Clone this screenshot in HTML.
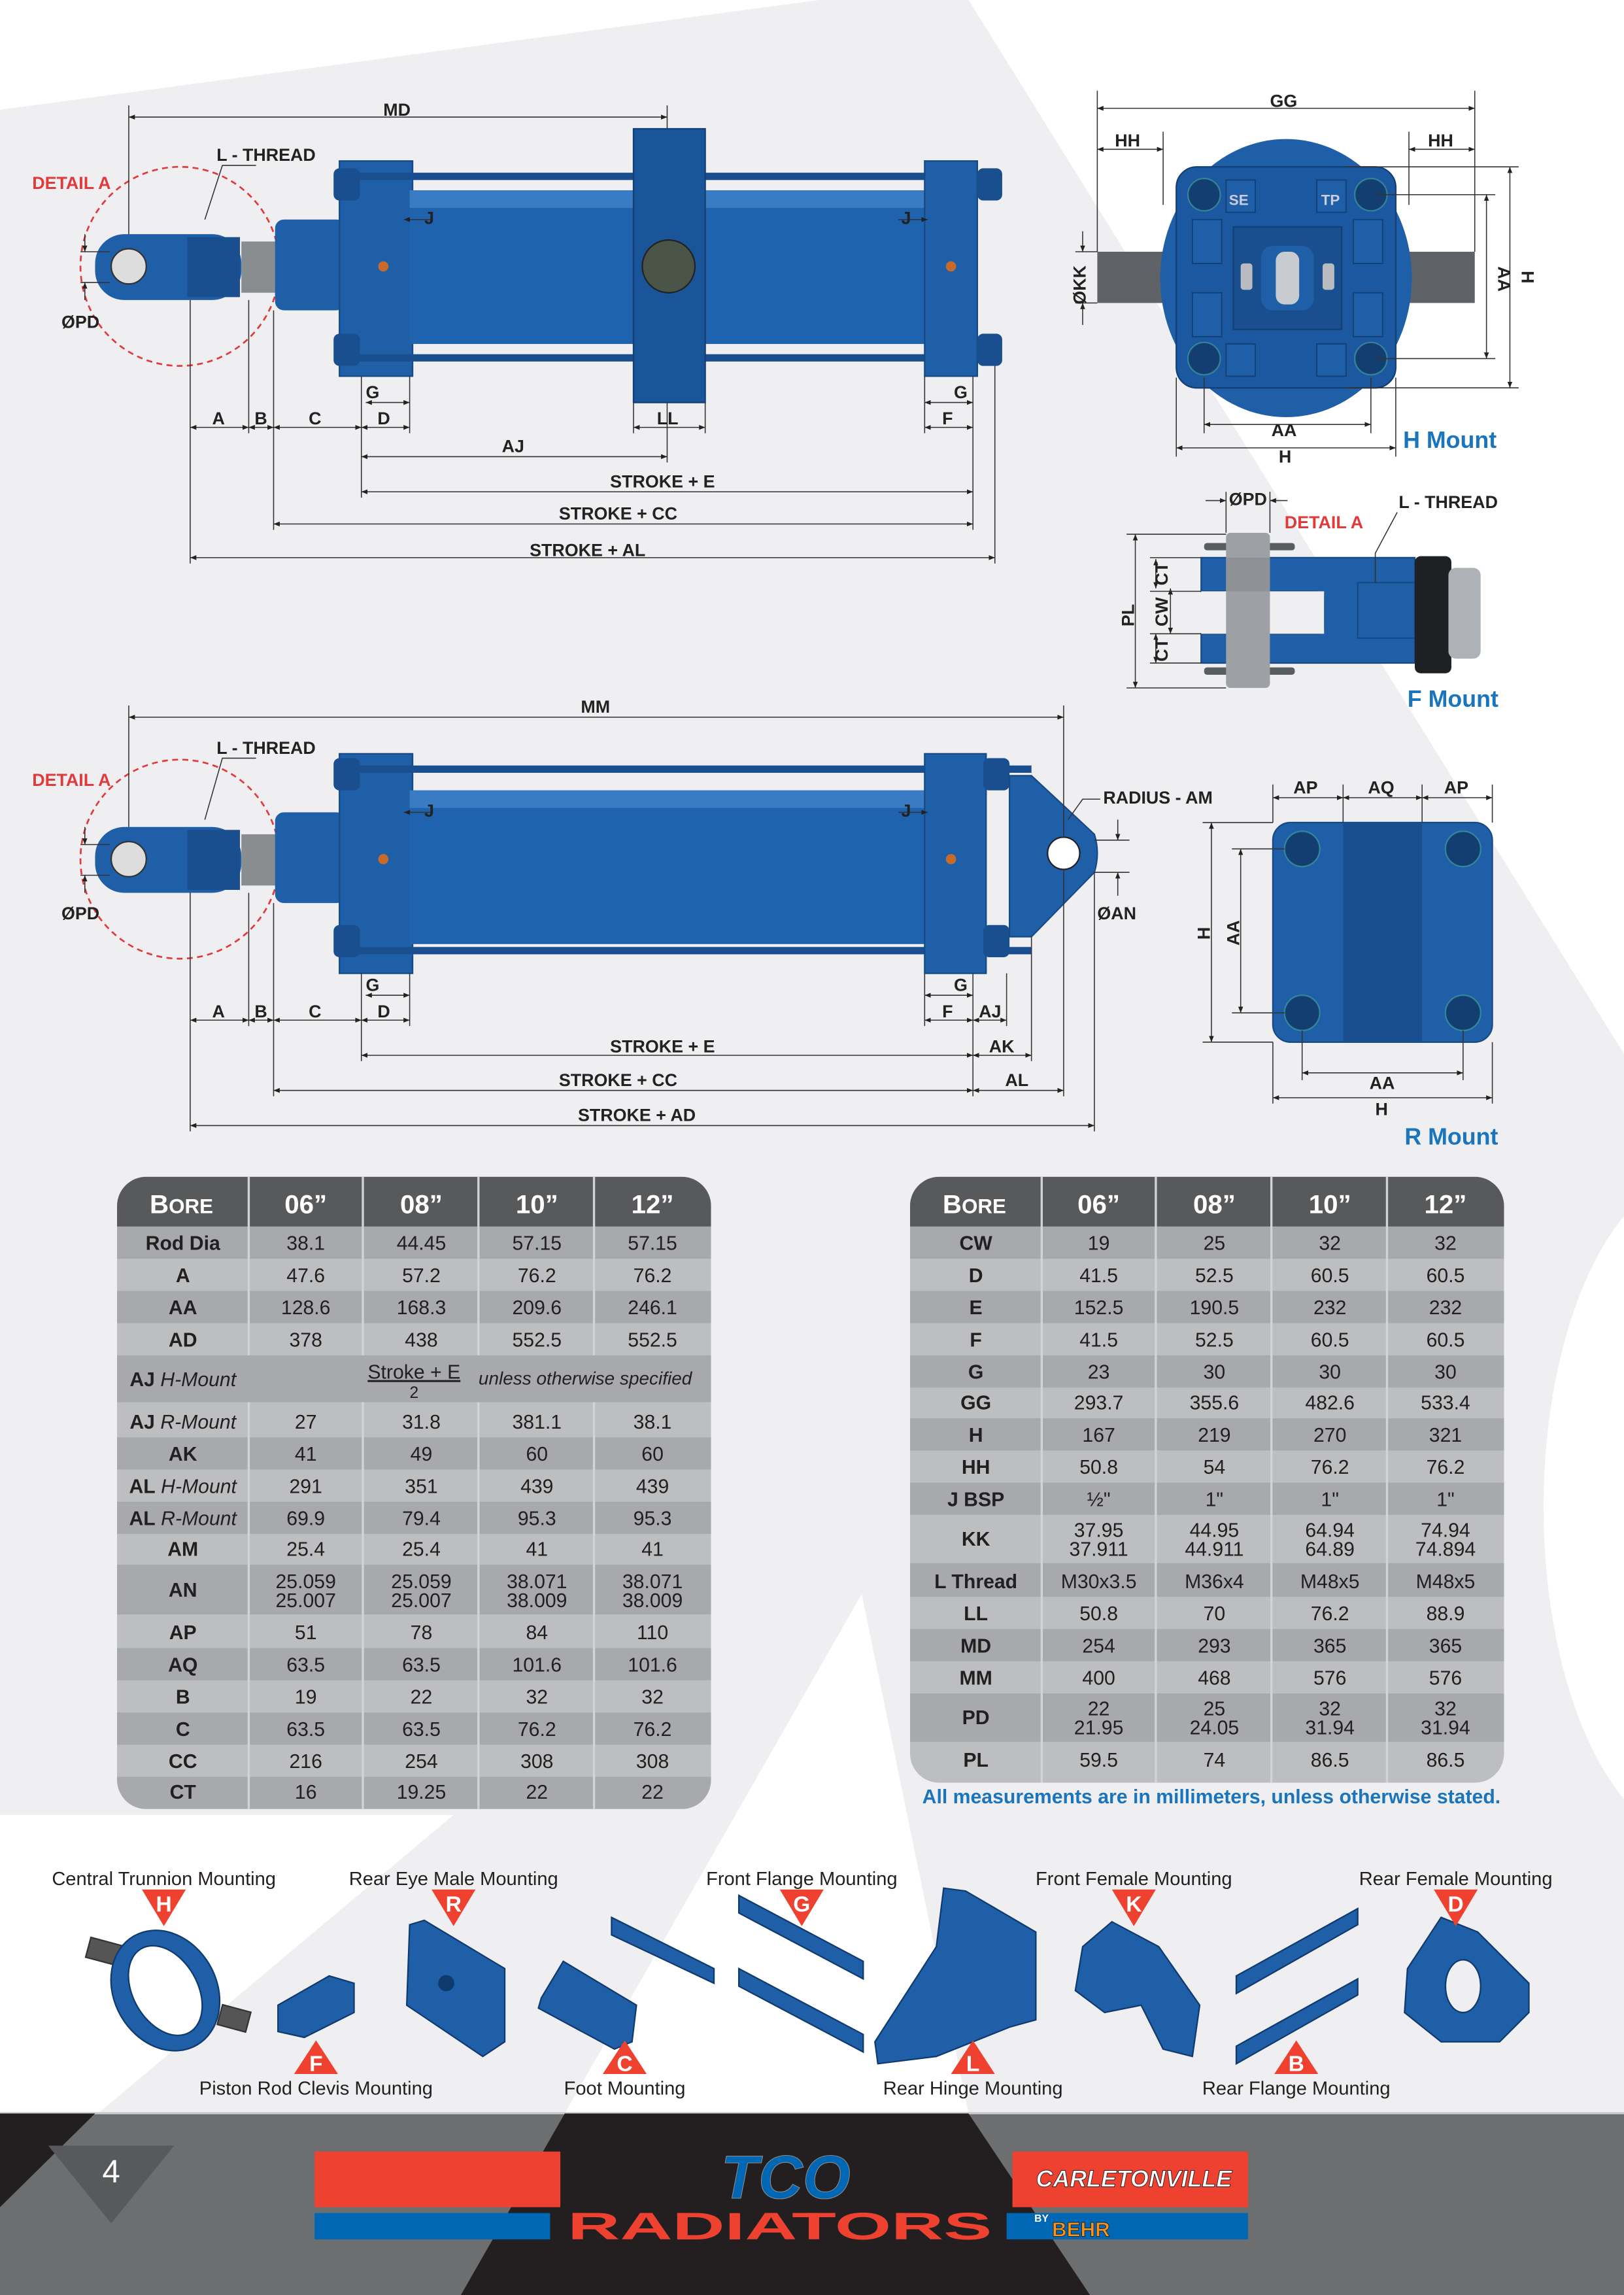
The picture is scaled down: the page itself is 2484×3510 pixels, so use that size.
<!DOCTYPE html>
<html><head><meta charset="utf-8"><style>
html,body{margin:0;padding:0;background:#fff}
svg{display:block}
.d{font-family:"Liberation Sans",sans-serif;font-weight:bold;font-size:12px;fill:#222}
.t{font-family:"Liberation Sans Narrow","Liberation Sans",sans-serif;font-size:13.5px;fill:#231f20;text-anchor:middle}
.tb{font-weight:bold}
.h{font-family:"Liberation Sans Narrow","Liberation Sans",sans-serif;font-size:18px;font-weight:bold;fill:#fff;text-anchor:middle}
.ml{font-family:"Liberation Sans Narrow","Liberation Sans",sans-serif;font-size:13px;fill:#231f20;text-anchor:middle}
.tri{font-family:"Liberation Sans",sans-serif;font-size:15px;font-weight:bold;fill:#fff;text-anchor:middle}
</style></head><body>
<svg width="2484" height="3510" viewBox="0 0 1110 1568" preserveAspectRatio="none" xmlns="http://www.w3.org/2000/svg">
<defs>
<marker id="a" viewBox="0 0 10 10" refX="10" refY="5" markerWidth="6" markerHeight="6" orient="auto-start-reverse"><path d="M0,1 L10,5 L0,9 z" fill="#222"/></marker>
<clipPath id="cl"><rect x="80" y="804" width="406" height="432" rx="20"/></clipPath>
<clipPath id="cr"><rect x="622" y="804" width="406" height="414" rx="20"/></clipPath>
</defs>
<!-- background -->
<rect width="1110" height="1568" fill="#efeff1"/>
<polygon points="0,0 560,0 0,75" fill="#fff"/>
<polygon points="662,0 1110,0 1110,720" fill="#fff"/>
<ellipse cx="1165" cy="1030" rx="110" ry="230" fill="#fff"/>
<polygon points="589,1089 662,1444 386,1444" fill="#fff"/>
<polygon points="0,1240 310,1240 67,1444 0,1444" fill="#fff"/>

<!-- ===== Cylinder 1 (H mount) ===== -->
<g>
<circle cx="123" cy="182" r="68" fill="none" stroke="#e03a3a" stroke-width="1.2" stroke-dasharray="4,3"/>
<rect x="65" y="160" width="100" height="45" rx="20" fill="#1f5fa8"/>
<rect x="128" y="162" width="36" height="41" fill="#1a4f8f"/>
<circle cx="88" cy="182" r="12" fill="#ddd" stroke="#333"/>
<rect x="165" y="165" width="25" height="35" fill="#8a8d90"/>
<rect x="188" y="150" width="48" height="62" rx="6" fill="#1f5fa8"/>
<rect x="232" y="110" width="50" height="147" fill="#1f5fa8" stroke="#174a85"/>
<rect x="228" y="115" width="18" height="22" rx="4" fill="#1a4f8f"/>
<rect x="228" y="228" width="18" height="22" rx="4" fill="#1a4f8f"/>
<rect x="245" y="118" width="435" height="5" fill="#1a4f8f"/>
<rect x="245" y="242" width="435" height="5" fill="#1a4f8f"/>
<rect x="280" y="130" width="355" height="105" fill="#1f62ad"/>
<rect x="280" y="130" width="355" height="12" fill="#3a7cc4"/>
<rect x="433" y="88" width="49" height="187" fill="#1a559a" stroke="#123f74"/>
<circle cx="457" cy="182" r="18" fill="#4a5548" stroke="#222"/>
<rect x="632" y="110" width="36" height="147" fill="#1f5fa8" stroke="#174a85"/>
<rect x="668" y="115" width="17" height="22" rx="4" fill="#1a4f8f"/>
<rect x="668" y="228" width="17" height="22" rx="4" fill="#1a4f8f"/>
<circle cx="262" cy="182" r="3.5" fill="#c86a2a"/>
<circle cx="650" cy="182" r="3.5" fill="#c86a2a"/>
</g>
<g stroke="#333" stroke-width="0.7" fill="none">
<line x1="88" y1="72" x2="88" y2="160"/><line x1="456" y1="72" x2="456" y2="88"/>
<line x1="130" y1="205" x2="130" y2="385"/><line x1="170" y1="205" x2="170" y2="296"/>
<line x1="187" y1="212" x2="187" y2="362"/><line x1="247" y1="257" x2="247" y2="340"/>
<line x1="280" y1="257" x2="280" y2="296"/><line x1="433" y1="275" x2="433" y2="296"/>
<line x1="482" y1="275" x2="482" y2="296"/><line x1="456" y1="275" x2="456" y2="316"/>
<line x1="632" y1="257" x2="632" y2="296"/><line x1="665" y1="257" x2="665" y2="362"/>
<line x1="680" y1="250" x2="680" y2="385"/>
<line x1="88" y1="80" x2="456" y2="80" marker-start="url(#a)" marker-end="url(#a)"/>
<line x1="130" y1="292" x2="170" y2="292" marker-start="url(#a)" marker-end="url(#a)"/>
<line x1="170" y1="292" x2="187" y2="292" marker-start="url(#a)" marker-end="url(#a)"/>
<line x1="187" y1="292" x2="247" y2="292" marker-start="url(#a)" marker-end="url(#a)"/>
<line x1="247" y1="292" x2="280" y2="292" marker-start="url(#a)" marker-end="url(#a)"/>
<line x1="250" y1="275" x2="280" y2="275" marker-start="url(#a)" marker-end="url(#a)"/>
<line x1="433" y1="292" x2="482" y2="292" marker-start="url(#a)" marker-end="url(#a)"/>
<line x1="632" y1="292" x2="665" y2="292" marker-start="url(#a)" marker-end="url(#a)"/>
<line x1="632" y1="275" x2="665" y2="275" marker-start="url(#a)" marker-end="url(#a)"/>
<line x1="247" y1="312" x2="456" y2="312" marker-start="url(#a)" marker-end="url(#a)"/>
<line x1="247" y1="336" x2="665" y2="336" marker-start="url(#a)" marker-end="url(#a)"/>
<line x1="187" y1="358" x2="665" y2="358" marker-start="url(#a)" marker-end="url(#a)"/>
<line x1="130" y1="381" x2="680" y2="381" marker-start="url(#a)" marker-end="url(#a)"/>
<polyline points="175,113 152,113 140,150"/>
<line x1="55" y1="172" x2="75" y2="172"/><line x1="55" y1="193" x2="75" y2="193"/>
<line x1="58" y1="160" x2="58" y2="172" marker-end="url(#a)"/><line x1="58" y1="205" x2="58" y2="193" marker-end="url(#a)"/>
<line x1="296" y1="150" x2="276" y2="150" marker-end="url(#a)"/>
<line x1="614" y1="150" x2="634" y2="150" marker-end="url(#a)"/>
</g>
<g class="d">
<text x="262" y="79">MD</text><text x="148" y="110">L - THREAD</text>
<text x="22" y="129" style="fill:#e03a3a">DETAIL A</text>
<text x="42" y="224">ØPD</text>
<text x="290" y="153">J</text><text x="616" y="153">J</text>
<text x="145" y="290">A</text><text x="174" y="290">B</text><text x="211" y="290">C</text><text x="258" y="290">D</text>
<text x="250" y="272">G</text><text x="652" y="272">G</text><text x="644" y="290">F</text><text x="449" y="290">LL</text>
<text x="343" y="309">AJ</text>
<text x="417" y="333">STROKE + E</text><text x="382" y="355">STROKE + CC</text><text x="362" y="380">STROKE + AL</text>
</g>

<!-- H mount end view -->
<g>
<rect x="750" y="172" width="60" height="35" fill="#5f6266"/>
<rect x="950" y="172" width="58" height="35" fill="#5f6266"/>
<ellipse cx="879" cy="190" rx="86" ry="95" fill="#1f5fa8"/>
<rect x="804" y="114" width="150" height="151" rx="14" fill="#1c58a0" stroke="#123f74"/>
<g fill="#1f5fa8" stroke="#123f74" stroke-width="0.8">
<rect x="815" y="150" width="20" height="30"/><rect x="925" y="150" width="20" height="30"/>
<rect x="815" y="200" width="20" height="30"/><rect x="925" y="200" width="20" height="30"/>
<rect x="838" y="123" width="20" height="22"/><rect x="900" y="123" width="20" height="22"/>
<rect x="838" y="235" width="20" height="22"/><rect x="900" y="235" width="20" height="22"/>
</g>
<rect x="843" y="155" width="74" height="70" fill="#1a4f8f" stroke="#123f74"/>
<rect x="862" y="168" width="36" height="44" rx="8" fill="#1f5fa8"/>
<rect x="872" y="172" width="16" height="36" rx="6" fill="#c8ccd0"/>
<rect x="848" y="180" width="8" height="18" rx="2" fill="#b8bcc0"/><rect x="904" y="180" width="8" height="18" rx="2" fill="#b8bcc0"/>
<g fill="#133e72" stroke="#7fa" stroke-opacity="0.3"><circle cx="823" cy="133" r="11"/><circle cx="937" cy="133" r="11"/><circle cx="823" cy="245" r="11"/><circle cx="937" cy="245" r="11"/></g>
</g>
<g stroke="#333" stroke-width="0.7" fill="none">
<line x1="750" y1="62" x2="750" y2="172"/><line x1="1008" y1="62" x2="1008" y2="172"/>
<line x1="795" y1="90" x2="795" y2="140"/><line x1="963" y1="90" x2="963" y2="140"/>
<line x1="750" y1="74" x2="1008" y2="74" marker-start="url(#a)" marker-end="url(#a)"/>
<line x1="750" y1="102" x2="795" y2="102" marker-start="url(#a)" marker-end="url(#a)"/>
<line x1="963" y1="102" x2="1008" y2="102" marker-start="url(#a)" marker-end="url(#a)"/>
<line x1="823" y1="258" x2="823" y2="296"/><line x1="937" y1="258" x2="937" y2="296"/>
<line x1="804" y1="258" x2="804" y2="312"/><line x1="954" y1="258" x2="954" y2="312"/>
<line x1="823" y1="290" x2="937" y2="290" marker-start="url(#a)" marker-end="url(#a)"/>
<line x1="804" y1="306" x2="954" y2="306" marker-start="url(#a)" marker-end="url(#a)"/>
<line x1="940" y1="133" x2="1022" y2="133"/><line x1="940" y1="245" x2="1022" y2="245"/>
<line x1="920" y1="114" x2="1038" y2="114"/><line x1="920" y1="265" x2="1038" y2="265"/>
<line x1="1016" y1="133" x2="1016" y2="245" marker-start="url(#a)" marker-end="url(#a)"/>
<line x1="1032" y1="114" x2="1032" y2="265" marker-start="url(#a)" marker-end="url(#a)"/>
<line x1="735" y1="172" x2="750" y2="172"/><line x1="735" y1="207" x2="750" y2="207"/>
<line x1="740" y1="158" x2="740" y2="172" marker-end="url(#a)"/><line x1="740" y1="222" x2="740" y2="207" marker-end="url(#a)"/>
</g>
<g class="d">
<text x="868" y="73">GG</text><text x="762" y="100">HH</text><text x="976" y="100">HH</text>
<text x="869" y="298">AA</text><text x="874" y="316">H</text>
<text x="1024" y="182" transform="rotate(90 1024 182)">AA</text>
<text x="1040" y="185" transform="rotate(90 1040 185)">H</text>
<text x="742" y="208" transform="rotate(-90 742 208)">ØKK</text>
<text x="840" y="140" style="font-size:10px;fill:#ccd">SE</text><text x="903" y="140" style="font-size:10px;fill:#ccd">TP</text>
</g>
<text x="959" y="306" style="font-family:'Liberation Sans',sans-serif;font-weight:bold;font-size:16px;fill:#1b75bc">H Mount</text>

<!-- F mount -->
<g>
<rect x="823" y="371" width="62" height="5" rx="2" fill="#5a5d60"/>
<rect x="823" y="456" width="62" height="5" rx="2" fill="#5a5d60"/>
<path d="M821,381 L967,381 L967,453 L821,453 L821,433 L900,433 Q905,433 905,428 L905,409 Q905,404 900,404 L821,404 Z" fill="#1f5fa8" stroke="#174a85"/>
<rect x="821" y="404" width="84" height="29" fill="#efeff1"/>
<rect x="928" y="398" width="39" height="38" fill="none" stroke="#174a85"/>
<rect x="838" y="364" width="30" height="106" rx="3" fill="#9da1a5"/>
<rect x="838" y="381" width="30" height="23" fill="#8e9296"/>
<rect x="967" y="380" width="25" height="80" rx="4" fill="#1e2124"/>
<rect x="990" y="388" width="22" height="62" rx="5" fill="#aeb2b6"/>
</g>
<g stroke="#333" stroke-width="0.7" fill="none">
<line x1="770" y1="365" x2="838" y2="365"/><line x1="770" y1="470" x2="838" y2="470"/>
<line x1="776" y1="365" x2="776" y2="470" marker-start="url(#a)" marker-end="url(#a)"/>
<line x1="790" y1="382" x2="790" y2="402" marker-start="url(#a)" marker-end="url(#a)"/>
<line x1="800" y1="402" x2="800" y2="433" marker-start="url(#a)" marker-end="url(#a)"/>
<line x1="790" y1="433" x2="790" y2="453" marker-start="url(#a)" marker-end="url(#a)"/>
<line x1="786" y1="381" x2="821" y2="381"/><line x1="786" y1="404" x2="821" y2="404"/><line x1="786" y1="433" x2="821" y2="433"/><line x1="786" y1="453" x2="821" y2="453"/>
<line x1="824" y1="342" x2="838" y2="342" marker-end="url(#a)"/><line x1="880" y1="342" x2="868" y2="342" marker-end="url(#a)"/>
<line x1="838" y1="336" x2="838" y2="364"/><line x1="868" y1="336" x2="868" y2="364"/>
<polyline points="955,350 940,378 940,398"/>
</g>
<g class="d">
<text x="840" y="345">ØPD</text><text x="878" y="361" style="fill:#e03a3a">DETAIL A</text><text x="956" y="347">L - THREAD</text>
<text x="775" y="428" transform="rotate(-90 775 428)">PL</text>
<text x="798" y="452" transform="rotate(-90 798 452)">CT</text>
<text x="798" y="428" transform="rotate(-90 798 428)">CW</text>
<text x="798" y="400" transform="rotate(-90 798 400)">CT</text>
</g>
<text x="962" y="483" style="font-family:'Liberation Sans',sans-serif;font-weight:bold;font-size:16px;fill:#1b75bc">F Mount</text>

<!-- ===== Cylinder 2 (R mount) ===== -->
<g>
<circle cx="123" cy="587" r="68" fill="none" stroke="#e03a3a" stroke-width="1.2" stroke-dasharray="4,3"/>
<rect x="65" y="565" width="100" height="45" rx="20" fill="#1f5fa8"/>
<rect x="128" y="567" width="36" height="41" fill="#1a4f8f"/>
<circle cx="88" cy="587" r="12" fill="#ddd" stroke="#333"/>
<rect x="165" y="570" width="25" height="35" fill="#8a8d90"/>
<rect x="188" y="555" width="48" height="62" rx="6" fill="#1f5fa8"/>
<rect x="232" y="515" width="50" height="150" fill="#1f5fa8" stroke="#174a85"/>
<rect x="228" y="518" width="18" height="22" rx="4" fill="#1a4f8f"/>
<rect x="228" y="632" width="18" height="22" rx="4" fill="#1a4f8f"/>
<rect x="245" y="523" width="460" height="5" fill="#1a4f8f"/>
<rect x="245" y="647" width="460" height="5" fill="#1a4f8f"/>
<rect x="280" y="540" width="355" height="105" fill="#1f62ad"/>
<rect x="280" y="540" width="355" height="12" fill="#3a7cc4"/>
<rect x="632" y="515" width="42" height="150" fill="#1f5fa8" stroke="#174a85"/>
<rect x="672" y="518" width="18" height="22" rx="4" fill="#1a4f8f"/>
<rect x="672" y="632" width="18" height="22" rx="4" fill="#1a4f8f"/>
<path d="M690,530 L705,530 L748,570 Q752,583 748,596 L705,640 L690,640 Z" fill="#1f5fa8" stroke="#174a85"/>
<circle cx="727" cy="583" r="11" fill="#fff" stroke="#222"/>
<circle cx="262" cy="587" r="3.5" fill="#c86a2a"/>
<circle cx="650" cy="587" r="3.5" fill="#c86a2a"/>
</g>
<g stroke="#333" stroke-width="0.7" fill="none">
<line x1="88" y1="482" x2="88" y2="565"/><line x1="727" y1="482" x2="727" y2="572"/>
<line x1="88" y1="490" x2="727" y2="490" marker-start="url(#a)" marker-end="url(#a)"/>
<line x1="130" y1="610" x2="130" y2="773"/><line x1="170" y1="610" x2="170" y2="701"/>
<line x1="187" y1="617" x2="187" y2="749"/><line x1="247" y1="665" x2="247" y2="725"/>
<line x1="280" y1="665" x2="280" y2="701"/><line x1="632" y1="665" x2="632" y2="701"/>
<line x1="665" y1="665" x2="665" y2="749"/><line x1="688" y1="665" x2="688" y2="701"/>
<line x1="705" y1="640" x2="705" y2="725"/><line x1="727" y1="594" x2="727" y2="749"/>
<line x1="748" y1="596" x2="748" y2="773"/>
<line x1="130" y1="697" x2="170" y2="697" marker-start="url(#a)" marker-end="url(#a)"/>
<line x1="170" y1="697" x2="187" y2="697" marker-start="url(#a)" marker-end="url(#a)"/>
<line x1="187" y1="697" x2="247" y2="697" marker-start="url(#a)" marker-end="url(#a)"/>
<line x1="247" y1="697" x2="280" y2="697" marker-start="url(#a)" marker-end="url(#a)"/>
<line x1="250" y1="680" x2="280" y2="680" marker-start="url(#a)" marker-end="url(#a)"/>
<line x1="632" y1="680" x2="665" y2="680" marker-start="url(#a)" marker-end="url(#a)"/>
<line x1="632" y1="697" x2="665" y2="697" marker-start="url(#a)" marker-end="url(#a)"/>
<line x1="665" y1="697" x2="688" y2="697" marker-start="url(#a)" marker-end="url(#a)"/>
<line x1="247" y1="721" x2="665" y2="721" marker-start="url(#a)" marker-end="url(#a)"/>
<line x1="665" y1="721" x2="705" y2="721" marker-start="url(#a)" marker-end="url(#a)"/>
<line x1="187" y1="745" x2="665" y2="745" marker-start="url(#a)" marker-end="url(#a)"/>
<line x1="665" y1="745" x2="727" y2="745" marker-start="url(#a)" marker-end="url(#a)"/>
<line x1="130" y1="769" x2="748" y2="769" marker-start="url(#a)" marker-end="url(#a)"/>
<polyline points="175,518 152,518 140,560"/>
<polyline points="752,546 740,546 730,560"/>
<line x1="748" y1="574" x2="772" y2="574"/><line x1="748" y1="596" x2="772" y2="596"/>
<line x1="764" y1="560" x2="764" y2="574" marker-end="url(#a)"/><line x1="764" y1="612" x2="764" y2="596" marker-end="url(#a)"/>
<line x1="55" y1="577" x2="75" y2="577"/><line x1="55" y1="598" x2="75" y2="598"/>
<line x1="58" y1="565" x2="58" y2="577" marker-end="url(#a)"/><line x1="58" y1="610" x2="58" y2="598" marker-end="url(#a)"/>
<line x1="296" y1="555" x2="276" y2="555" marker-end="url(#a)"/>
<line x1="614" y1="555" x2="634" y2="555" marker-end="url(#a)"/>
</g>
<g class="d">
<text x="397" y="487">MM</text><text x="148" y="515">L - THREAD</text>
<text x="22" y="537" style="fill:#e03a3a">DETAIL A</text>
<text x="42" y="628">ØPD</text><text x="754" y="549">RADIUS - AM</text><text x="750" y="628">ØAN</text>
<text x="290" y="558">J</text><text x="616" y="558">J</text>
<text x="145" y="695">A</text><text x="174" y="695">B</text><text x="211" y="695">C</text><text x="258" y="695">D</text>
<text x="250" y="677">G</text><text x="652" y="677">G</text><text x="644" y="695">F</text><text x="669" y="695">AJ</text>
<text x="417" y="719">STROKE + E</text><text x="676" y="719">AK</text>
<text x="382" y="742">STROKE + CC</text><text x="687" y="742">AL</text>
<text x="395" y="766">STROKE + AD</text>
</g>

<!-- R mount end view -->
<g>
<rect x="870" y="562" width="150" height="150" rx="12" fill="#1f5fa8" stroke="#174a85"/>
<rect x="918" y="562" width="54" height="150" fill="#1a4f8f"/>
<g fill="#133e72" stroke="#7fa" stroke-opacity="0.3"><circle cx="890" cy="580" r="12"/><circle cx="1000" cy="580" r="12"/><circle cx="890" cy="692" r="12"/><circle cx="1000" cy="692" r="12"/></g>
</g>
<g stroke="#333" stroke-width="0.7" fill="none">
<line x1="870" y1="536" x2="870" y2="562"/><line x1="918" y1="536" x2="918" y2="562"/><line x1="972" y1="536" x2="972" y2="562"/><line x1="1020" y1="536" x2="1020" y2="562"/>
<line x1="870" y1="545" x2="918" y2="545" marker-start="url(#a)" marker-end="url(#a)"/>
<line x1="918" y1="545" x2="972" y2="545" marker-start="url(#a)" marker-end="url(#a)"/>
<line x1="972" y1="545" x2="1020" y2="545" marker-start="url(#a)" marker-end="url(#a)"/>
<line x1="822" y1="562" x2="870" y2="562"/><line x1="822" y1="712" x2="870" y2="712"/>
<line x1="842" y1="580" x2="878" y2="580"/><line x1="842" y1="692" x2="878" y2="692"/>
<line x1="828" y1="562" x2="828" y2="712" marker-start="url(#a)" marker-end="url(#a)"/>
<line x1="848" y1="580" x2="848" y2="692" marker-start="url(#a)" marker-end="url(#a)"/>
<line x1="890" y1="704" x2="890" y2="738"/><line x1="1000" y1="704" x2="1000" y2="738"/>
<line x1="870" y1="712" x2="870" y2="754"/><line x1="1020" y1="712" x2="1020" y2="754"/>
<line x1="890" y1="733" x2="1000" y2="733" marker-start="url(#a)" marker-end="url(#a)"/>
<line x1="870" y1="750" x2="1020" y2="750" marker-start="url(#a)" marker-end="url(#a)"/>
</g>
<g class="d">
<text x="884" y="542">AP</text><text x="935" y="542">AQ</text><text x="987" y="542">AP</text>
<text x="827" y="642" transform="rotate(-90 827 642)">H</text>
<text x="847" y="646" transform="rotate(-90 847 646)">AA</text>
<text x="936" y="744">AA</text><text x="940" y="762">H</text>
</g>
<text x="960" y="782" style="font-family:'Liberation Sans',sans-serif;font-weight:bold;font-size:16px;fill:#1b75bc">R Mount</text>

<!-- ===== Left table ===== -->
<g clip-path="url(#cl)">
<rect x="80" y="804" width="406" height="432" fill="#bcbec0"/>
<rect x="80" y="804" width="406" height="34" fill="#58595b"/>
<g fill="#a7a9ac">
<rect x="80" y="838" width="406" height="22"/><rect x="80" y="882" width="406" height="22"/>
<rect x="80" y="926" width="406" height="32"/><rect x="80" y="982" width="406" height="22"/>
<rect x="80" y="1026" width="406" height="22"/><rect x="80" y="1069" width="406" height="34"/>
<rect x="80" y="1126" width="406" height="22"/><rect x="80" y="1170" width="406" height="22"/>
<rect x="80" y="1214" width="406" height="22"/>
</g>
<g stroke="#d1d3d4" stroke-width="1.5">
<line x1="170" y1="804" x2="170" y2="926"/><line x1="170" y1="958" x2="170" y2="1236"/>
<line x1="248" y1="804" x2="248" y2="926"/><line x1="248" y1="958" x2="248" y2="1236"/>
<line x1="327" y1="804" x2="327" y2="926"/><line x1="327" y1="958" x2="327" y2="1236"/>
<line x1="406" y1="804" x2="406" y2="926"/><line x1="406" y1="958" x2="406" y2="1236"/>
</g>
</g>
<g>
<text class="h" x="124" y="829">B<tspan style="font-size:14px">ORE</tspan></text>
<text class="h" x="209" y="829">06”</text><text class="h" x="288" y="829">08”</text><text class="h" x="367" y="829">10”</text><text class="h" x="446" y="829">12”</text>
</g>
<g class="t">
<text x="125" y="854" class="tb">Rod Dia</text><text x="209" y="854">38.1</text><text x="288" y="854">44.45</text><text x="367" y="854">57.15</text><text x="446" y="854">57.15</text>
<text x="125" y="876" class="tb">A</text><text x="209" y="876">47.6</text><text x="288" y="876">57.2</text><text x="367" y="876">76.2</text><text x="446" y="876">76.2</text>
<text x="125" y="898" class="tb">AA</text><text x="209" y="898">128.6</text><text x="288" y="898">168.3</text><text x="367" y="898">209.6</text><text x="446" y="898">246.1</text>
<text x="125" y="920" class="tb">AD</text><text x="209" y="920">378</text><text x="288" y="920">438</text><text x="367" y="920">552.5</text><text x="446" y="920">552.5</text>
<text x="125" y="947"><tspan font-weight="bold">AJ</tspan> <tspan font-style="italic">H-Mount</tspan></text>
<text x="283" y="942" text-decoration="underline">Stroke + E</text><text x="283" y="955" style="font-size:11px">2</text>
<text x="400" y="946" font-style="italic" style="font-size:12.5px">unless otherwise specified</text>
<text x="125" y="976"><tspan font-weight="bold">AJ</tspan> <tspan font-style="italic">R-Mount</tspan></text><text x="209" y="976">27</text><text x="288" y="976">31.8</text><text x="367" y="976">381.1</text><text x="446" y="976">38.1</text>
<text x="125" y="998" class="tb">AK</text><text x="209" y="998">41</text><text x="288" y="998">49</text><text x="367" y="998">60</text><text x="446" y="998">60</text>
<text x="125" y="1020"><tspan font-weight="bold">AL</tspan> <tspan font-style="italic">H-Mount</tspan></text><text x="209" y="1020">291</text><text x="288" y="1020">351</text><text x="367" y="1020">439</text><text x="446" y="1020">439</text>
<text x="125" y="1042"><tspan font-weight="bold">AL</tspan> <tspan font-style="italic">R-Mount</tspan></text><text x="209" y="1042">69.9</text><text x="288" y="1042">79.4</text><text x="367" y="1042">95.3</text><text x="446" y="1042">95.3</text>
<text x="125" y="1063" class="tb">AM</text><text x="209" y="1063">25.4</text><text x="288" y="1063">25.4</text><text x="367" y="1063">41</text><text x="446" y="1063">41</text>
<text x="125" y="1091" class="tb">AN</text>
<text x="209" y="1085">25.059</text><text x="209" y="1098">25.007</text><text x="288" y="1085">25.059</text><text x="288" y="1098">25.007</text>
<text x="367" y="1085">38.071</text><text x="367" y="1098">38.009</text><text x="446" y="1085">38.071</text><text x="446" y="1098">38.009</text>
<text x="125" y="1120" class="tb">AP</text><text x="209" y="1120">51</text><text x="288" y="1120">78</text><text x="367" y="1120">84</text><text x="446" y="1120">110</text>
<text x="125" y="1142" class="tb">AQ</text><text x="209" y="1142">63.5</text><text x="288" y="1142">63.5</text><text x="367" y="1142">101.6</text><text x="446" y="1142">101.6</text>
<text x="125" y="1164" class="tb">B</text><text x="209" y="1164">19</text><text x="288" y="1164">22</text><text x="367" y="1164">32</text><text x="446" y="1164">32</text>
<text x="125" y="1186" class="tb">C</text><text x="209" y="1186">63.5</text><text x="288" y="1186">63.5</text><text x="367" y="1186">76.2</text><text x="446" y="1186">76.2</text>
<text x="125" y="1208" class="tb">CC</text><text x="209" y="1208">216</text><text x="288" y="1208">254</text><text x="367" y="1208">308</text><text x="446" y="1208">308</text>
<text x="125" y="1229" class="tb">CT</text><text x="209" y="1229">16</text><text x="288" y="1229">19.25</text><text x="367" y="1229">22</text><text x="446" y="1229">22</text>
</g>

<!-- ===== Right table ===== -->
<g clip-path="url(#cr)">
<rect x="622" y="804" width="406" height="414" fill="#bcbec0"/>
<rect x="622" y="804" width="406" height="34" fill="#58595b"/>
<g fill="#a7a9ac">
<rect x="622" y="838" width="406" height="22"/><rect x="622" y="882" width="406" height="22"/>
<rect x="622" y="926" width="406" height="22"/><rect x="622" y="969" width="406" height="22"/>
<rect x="622" y="1013" width="406" height="22"/><rect x="622" y="1068" width="406" height="23"/>
<rect x="622" y="1113" width="406" height="22"/><rect x="622" y="1157" width="406" height="33"/>
</g>
<g stroke="#d1d3d4" stroke-width="1.5">
<line x1="712" y1="804" x2="712" y2="1218"/><line x1="790" y1="804" x2="790" y2="1218"/>
<line x1="869" y1="804" x2="869" y2="1218"/><line x1="948" y1="804" x2="948" y2="1218"/>
</g>
</g>
<g>
<text class="h" x="666" y="829">B<tspan style="font-size:14px">ORE</tspan></text>
<text class="h" x="751" y="829">06”</text><text class="h" x="830" y="829">08”</text><text class="h" x="909" y="829">10”</text><text class="h" x="988" y="829">12”</text>
</g>
<g class="t">
<text x="667" y="854" class="tb">CW</text><text x="751" y="854">19</text><text x="830" y="854">25</text><text x="909" y="854">32</text><text x="988" y="854">32</text>
<text x="667" y="876" class="tb">D</text><text x="751" y="876">41.5</text><text x="830" y="876">52.5</text><text x="909" y="876">60.5</text><text x="988" y="876">60.5</text>
<text x="667" y="898" class="tb">E</text><text x="751" y="898">152.5</text><text x="830" y="898">190.5</text><text x="909" y="898">232</text><text x="988" y="898">232</text>
<text x="667" y="920" class="tb">F</text><text x="751" y="920">41.5</text><text x="830" y="920">52.5</text><text x="909" y="920">60.5</text><text x="988" y="920">60.5</text>
<text x="667" y="942" class="tb">G</text><text x="751" y="942">23</text><text x="830" y="942">30</text><text x="909" y="942">30</text><text x="988" y="942">30</text>
<text x="667" y="963" class="tb">GG</text><text x="751" y="963">293.7</text><text x="830" y="963">355.6</text><text x="909" y="963">482.6</text><text x="988" y="963">533.4</text>
<text x="667" y="985" class="tb">H</text><text x="751" y="985">167</text><text x="830" y="985">219</text><text x="909" y="985">270</text><text x="988" y="985">321</text>
<text x="667" y="1007" class="tb">HH</text><text x="751" y="1007">50.8</text><text x="830" y="1007">54</text><text x="909" y="1007">76.2</text><text x="988" y="1007">76.2</text>
<text x="667" y="1029" class="tb">J BSP</text><text x="751" y="1029">½"</text><text x="830" y="1029">1"</text><text x="909" y="1029">1"</text><text x="988" y="1029">1"</text>
<text x="667" y="1056" class="tb">KK</text>
<text x="751" y="1050">37.95</text><text x="751" y="1063">37.911</text><text x="830" y="1050">44.95</text><text x="830" y="1063">44.911</text>
<text x="909" y="1050">64.94</text><text x="909" y="1063">64.89</text><text x="988" y="1050">74.94</text><text x="988" y="1063">74.894</text>
<text x="667" y="1085" class="tb">L Thread</text><text x="751" y="1085">M30x3.5</text><text x="830" y="1085">M36x4</text><text x="909" y="1085">M48x5</text><text x="988" y="1085">M48x5</text>
<text x="667" y="1107" class="tb">LL</text><text x="751" y="1107">50.8</text><text x="830" y="1107">70</text><text x="909" y="1107">76.2</text><text x="988" y="1107">88.9</text>
<text x="667" y="1129" class="tb">MD</text><text x="751" y="1129">254</text><text x="830" y="1129">293</text><text x="909" y="1129">365</text><text x="988" y="1129">365</text>
<text x="667" y="1151" class="tb">MM</text><text x="751" y="1151">400</text><text x="830" y="1151">468</text><text x="909" y="1151">576</text><text x="988" y="1151">576</text>
<text x="667" y="1178" class="tb">PD</text>
<text x="751" y="1172">22</text><text x="751" y="1185">21.95</text><text x="830" y="1172">25</text><text x="830" y="1185">24.05</text>
<text x="909" y="1172">32</text><text x="909" y="1185">31.94</text><text x="988" y="1172">32</text><text x="988" y="1185">31.94</text>
<text x="667" y="1207" class="tb">PL</text><text x="751" y="1207">59.5</text><text x="830" y="1207">74</text><text x="909" y="1207">86.5</text><text x="988" y="1207">86.5</text>
</g>
<text x="828" y="1232" text-anchor="middle" style="font-family:'Liberation Sans Narrow','Liberation Sans',sans-serif;font-weight:bold;font-size:13.5px;fill:#1b75bc">All measurements are in millimeters, unless otherwise stated.</text>

<!-- ===== Mounting icons ===== -->
<g class="ml">
<text x="112" y="1288">Central Trunnion Mounting</text>
<text x="310" y="1288">Rear Eye Male Mounting</text>
<text x="548" y="1288">Front Flange Mounting</text>
<text x="775" y="1288">Front Female Mounting</text>
<text x="995" y="1288">Rear Female Mounting</text>
<text x="216" y="1431">Piston Rod Clevis Mounting</text>
<text x="427" y="1431">Foot Mounting</text>
<text x="665" y="1431">Rear Hinge Mounting</text>
<text x="886" y="1431">Rear Flange Mounting</text>
</g>
<g fill="#1f5fa8" stroke="#0f3a6e" stroke-width="1">
<rect x="60" y="1326" width="22" height="14" fill="#555" stroke="#333" transform="rotate(15 70 1333)"/>
<rect x="150" y="1372" width="20" height="14" fill="#555" stroke="#333" transform="rotate(15 160 1379)"/>
<ellipse cx="113" cy="1360" rx="35" ry="43" transform="rotate(-30 113 1360)"/>
<ellipse cx="113" cy="1360" rx="22" ry="33" fill="#fff" transform="rotate(-30 113 1360)"/>
<path d="M190,1370 L225,1350 L242,1355 L242,1375 L208,1392 L190,1388 Z"/>
<path d="M280,1315 L290,1312 L345,1345 L345,1395 L330,1405 L278,1370 Z"/>
<circle cx="305" cy="1355" r="5" fill="#0f3a6e"/>
<path d="M370,1365 L385,1340 L435,1370 L432,1395 L420,1400 L368,1372 Z"/>
<path d="M418,1310 L488,1345 L488,1355 L418,1322 Z"/>
<path d="M505,1295 L590,1340 L590,1352 L505,1307 Z"/>
<path d="M505,1345 L590,1390 L590,1402 L505,1357 Z"/>
<path d="M645,1290 L660,1292 L708,1320 L708,1380 L690,1385 L640,1405 L600,1410 L598,1395 L640,1330 Z"/>
<path d="M760,1313 L792,1330 L820,1370 L815,1405 L795,1400 L780,1370 L755,1375 L735,1360 L740,1330 Z"/>
<path d="M845,1350 L928,1304 L928,1315 L845,1362 Z"/>
<path d="M845,1398 L928,1352 L928,1363 L845,1410 Z"/>
<path d="M985,1310 L1010,1320 L1045,1355 L1045,1375 L1025,1395 L985,1395 L960,1375 L962,1345 Z"/>
<ellipse cx="1000" cy="1357" rx="12" ry="18" fill="#efeff1"/>
</g>
<g fill="#ef4130">
<polygon points="97,1291 127,1291 112,1316"/>
<polygon points="295,1291 325,1291 310,1316"/>
<polygon points="533,1291 563,1291 548,1316"/>
<polygon points="760,1291 790,1291 775,1316"/>
<polygon points="980,1291 1010,1291 995,1316"/>
<polygon points="216,1394 201,1417 231,1417"/>
<polygon points="427,1394 412,1417 442,1417"/>
<polygon points="665,1394 650,1417 680,1417"/>
<polygon points="886,1394 871,1417 901,1417"/>
</g>
<g class="tri">
<text x="112" y="1306">H</text><text x="310" y="1306">R</text><text x="548" y="1306">G</text><text x="775" y="1306">K</text><text x="995" y="1306">D</text>
<text x="216" y="1415">F</text><text x="427" y="1415">C</text><text x="665" y="1415">L</text><text x="886" y="1415">B</text>
</g>

<!-- ===== Footer ===== -->
<rect x="0" y="1444" width="1110" height="124" fill="#6d6e70"/>
<rect x="0" y="1443" width="1110" height="1.5" fill="#ccc"/>
<polygon points="386,1444 662,1444 745,1568 315,1568" fill="#231f20"/>
<polygon points="0,1444 65,1444 0,1508" fill="#231f20"/>
<polygon points="33,1466 119,1466 76,1519" fill="#58595b"/>
<text x="76" y="1491" text-anchor="middle" style="font-family:'Liberation Sans',sans-serif;font-size:22px;fill:#fff">4</text>
<rect x="215" y="1470" width="168" height="38" fill="#ef4130"/>
<rect x="215" y="1512" width="161" height="18" fill="#0067b4"/>
<text x="537" y="1502" text-anchor="middle" style="font-family:'Liberation Sans',sans-serif;font-weight:bold;font-style:italic;font-size:42px;fill:#0067b4;stroke:#888;stroke-width:0.5">TCO</text>
<text x="533" y="1530" text-anchor="middle" textLength="290" lengthAdjust="spacingAndGlyphs" style="font-family:'Liberation Sans',sans-serif;font-weight:bold;font-size:26px;fill:#ef4130">RADIATORS</text>
<rect x="692" y="1470" width="161" height="38" fill="#ef4130"/>
<rect x="688" y="1512" width="165" height="18" fill="#0067b4"/>
<text x="775" y="1494" text-anchor="middle" style="font-family:'Liberation Sans',sans-serif;font-weight:bold;font-style:italic;font-size:16px;fill:#fff;stroke:#222;stroke-width:0.4">CARLETONVILLE</text>
<text x="707" y="1518" style="font-family:'Liberation Sans',sans-serif;font-weight:bold;font-size:7px;fill:#fff">BY</text>
<text x="719" y="1528" style="font-family:'Liberation Sans',sans-serif;font-weight:bold;font-size:14px;fill:#f7941d;stroke:#222;stroke-width:0.4">BEHR</text>
</svg>
</body></html>
